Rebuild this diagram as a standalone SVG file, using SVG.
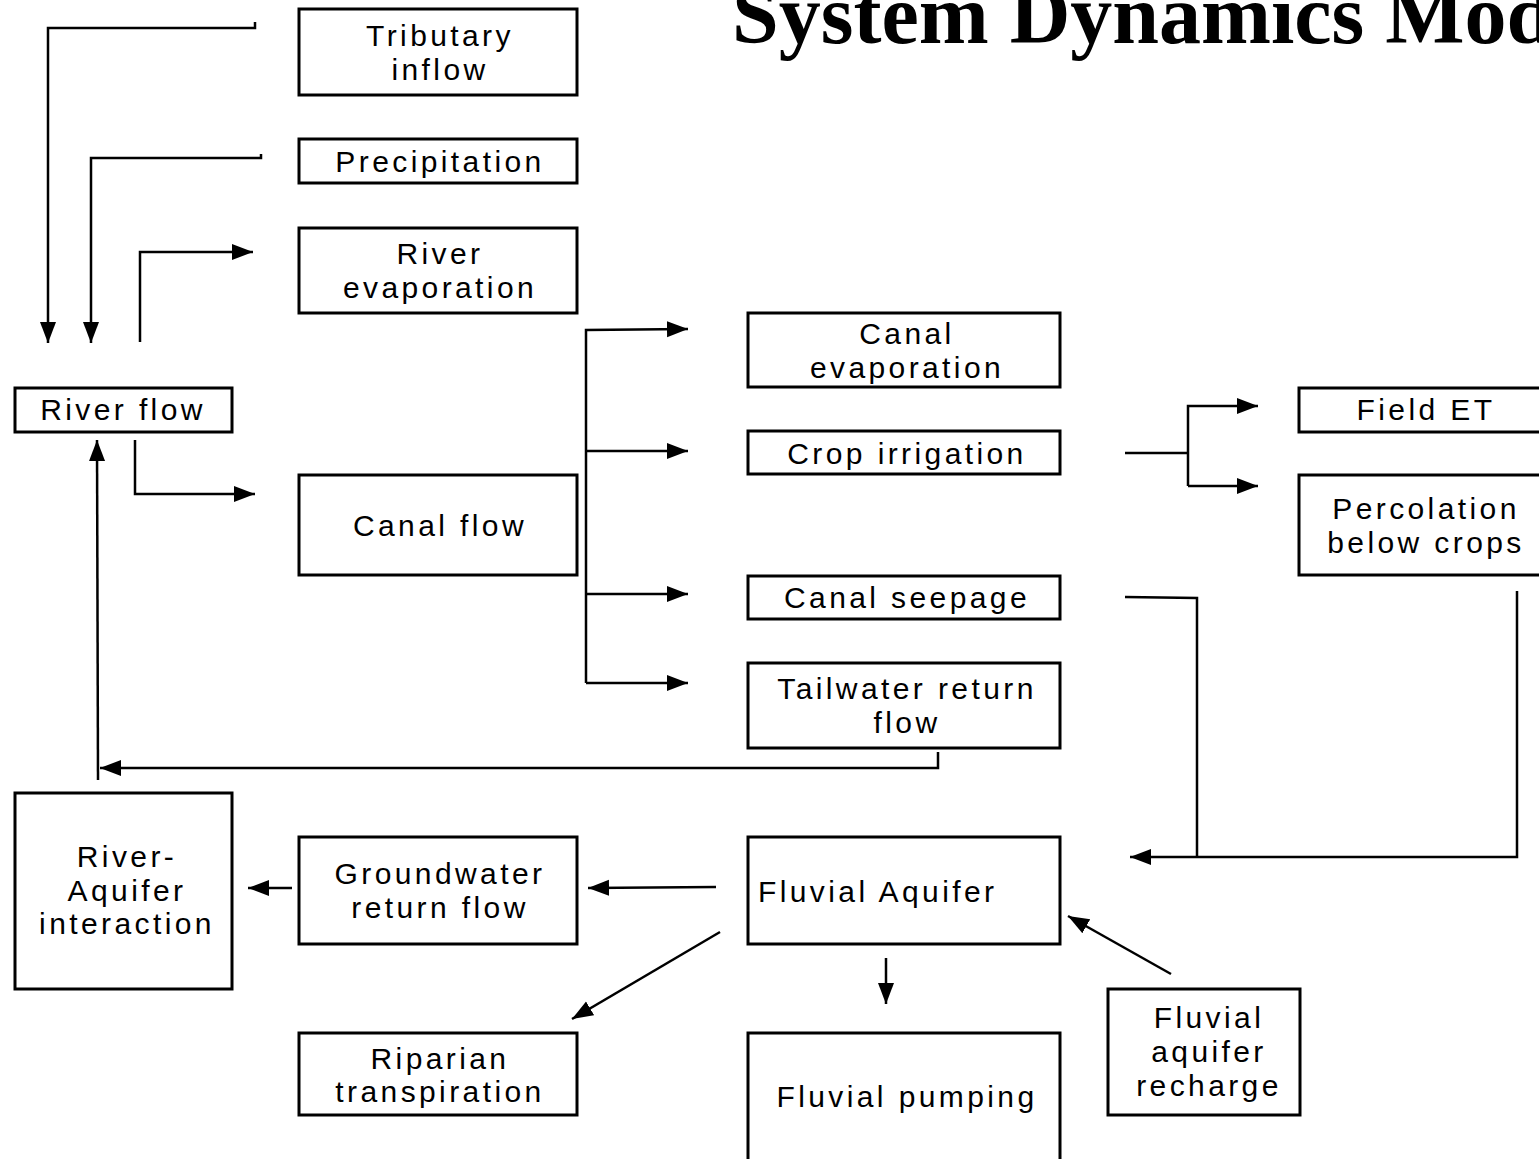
<svg xmlns="http://www.w3.org/2000/svg" width="1539" height="1159" viewBox="0 0 1539 1159">
<style>
.box{fill:#fff;stroke:#000;stroke-width:3}
.t{font-family:"Liberation Sans",Arial,sans-serif;font-size:30px;letter-spacing:3.4px;text-anchor:middle;fill:#000}
.c{fill:none;stroke:#000;stroke-width:2.5}
.title{font-family:"Liberation Serif","Times New Roman",serif;font-weight:bold;font-size:84px;fill:#000}
</style>
<defs>
<marker id="ah" markerUnits="userSpaceOnUse" markerWidth="24" markerHeight="18" refX="21" refY="9" orient="auto">
<path d="M0,1 L21,9 L0,17 Z" fill="#000"/>
</marker>
</defs>
<rect width="1539" height="1159" fill="#fff"/>
<text class="title" x="732" y="43">System Dynamics Model</text>

<g id="connectors">
<polyline class="c" points="255,22 255,28 48,28 48,343" marker-end="url(#ah)"/>
<polyline class="c" points="261,154 261,158 91,158 91,343" marker-end="url(#ah)"/>
<polyline class="c" points="140,342 140,252 253,252" marker-end="url(#ah)"/>
<polyline class="c" points="135,440 135,494 255,494" marker-end="url(#ah)"/>
<polyline class="c" points="98,780 97,440" marker-end="url(#ah)"/>
<polyline class="c" points="938,752 938,768 100,768" marker-end="url(#ah)"/>
<polyline class="c" points="586,683 586,330 688,329" marker-end="url(#ah)"/>
<polyline class="c" points="586,451 688,451" marker-end="url(#ah)"/>
<polyline class="c" points="586,594 688,594" marker-end="url(#ah)"/>
<polyline class="c" points="586,683 688,683" marker-end="url(#ah)"/>
<polyline class="c" points="1125,453 1188,453"/>
<polyline class="c" points="1188,486 1188,406 1258,406" marker-end="url(#ah)"/>
<polyline class="c" points="1188,486 1258,486" marker-end="url(#ah)"/>
<polyline class="c" points="1125,597 1197,598 1197,857"/>
<polyline class="c" points="1517,591 1517,857 1130,857" marker-end="url(#ah)"/>
<polyline class="c" points="716,887 588,888" marker-end="url(#ah)"/>
<polyline class="c" points="292,888 248,888" marker-end="url(#ah)"/>
<polyline class="c" points="720,932 572,1019" marker-end="url(#ah)"/>
<polyline class="c" points="886,958 886,1004" marker-end="url(#ah)"/>
<polyline class="c" points="1171,974 1068,916" marker-end="url(#ah)"/>
</g>

<g id="tributary-inflow"><rect class="box" x="299" y="9" width="278" height="86"/><text class="t" x="440" y="46">Tributary</text><text class="t" x="440" y="80">inflow</text></g>
<g id="precipitation"><rect class="box" x="299" y="139" width="278" height="44"/><text class="t" x="440" y="172">Precipitation</text></g>
<g id="river-evaporation"><rect class="box" x="299" y="228" width="278" height="85"/><text class="t" x="440" y="264">River</text><text class="t" x="440" y="298">evaporation</text></g>
<g id="river-flow"><rect class="box" x="15" y="388" width="217" height="44"/><text class="t" x="123" y="420">River flow</text></g>
<g id="canal-flow"><rect class="box" x="299" y="475" width="278" height="100"/><text class="t" x="440" y="536">Canal flow</text></g>
<g id="canal-evaporation"><rect class="box" x="748" y="313" width="312" height="74"/><text class="t" x="907" y="344">Canal</text><text class="t" x="907" y="378">evaporation</text></g>
<g id="crop-irrigation"><rect class="box" x="748" y="431" width="312" height="43"/><text class="t" x="907" y="464">Crop irrigation</text></g>
<g id="canal-seepage"><rect class="box" x="748" y="576" width="312" height="43"/><text class="t" x="907" y="608">Canal seepage</text></g>
<g id="tailwater-return-flow"><rect class="box" x="748" y="663" width="312" height="85"/><text class="t" x="907" y="699">Tailwater return</text><text class="t" x="907" y="733">flow</text></g>
<g id="field-et"><rect class="box" x="1299" y="388" width="260" height="44"/><text class="t" x="1426" y="420">Field ET</text></g>
<g id="percolation-below-crops"><rect class="box" x="1299" y="475" width="260" height="100"/><text class="t" x="1426" y="519">Percolation</text><text class="t" x="1426" y="553">below crops</text></g>
<g id="river-aquifer-interaction"><rect class="box" x="15" y="793" width="217" height="196"/><text class="t" x="127" y="867">River-</text><text class="t" x="127" y="901">Aquifer</text><text class="t" x="127" y="934">interaction</text></g>
<g id="groundwater-return-flow"><rect class="box" x="299" y="837" width="278" height="107"/><text class="t" x="440" y="884">Groundwater</text><text class="t" x="440" y="918">return flow</text></g>
<g id="fluvial-aquifer"><rect class="box" x="748" y="837" width="312" height="107"/><text class="t" x="758" y="902" style="text-anchor:start">Fluvial Aquifer</text></g>
<g id="riparian-transpiration"><rect class="box" x="299" y="1033" width="278" height="82"/><text class="t" x="440" y="1069">Riparian</text><text class="t" x="440" y="1102">transpiration</text></g>
<g id="fluvial-pumping"><rect class="box" x="748" y="1033" width="312" height="140"/><text class="t" x="907" y="1107">Fluvial pumping</text></g>
<g id="fluvial-aquifer-recharge"><rect class="box" x="1108" y="989" width="192" height="126"/><text class="t" x="1209" y="1028">Fluvial</text><text class="t" x="1209" y="1062">aquifer</text><text class="t" x="1209" y="1096">recharge</text></g>
</svg>
